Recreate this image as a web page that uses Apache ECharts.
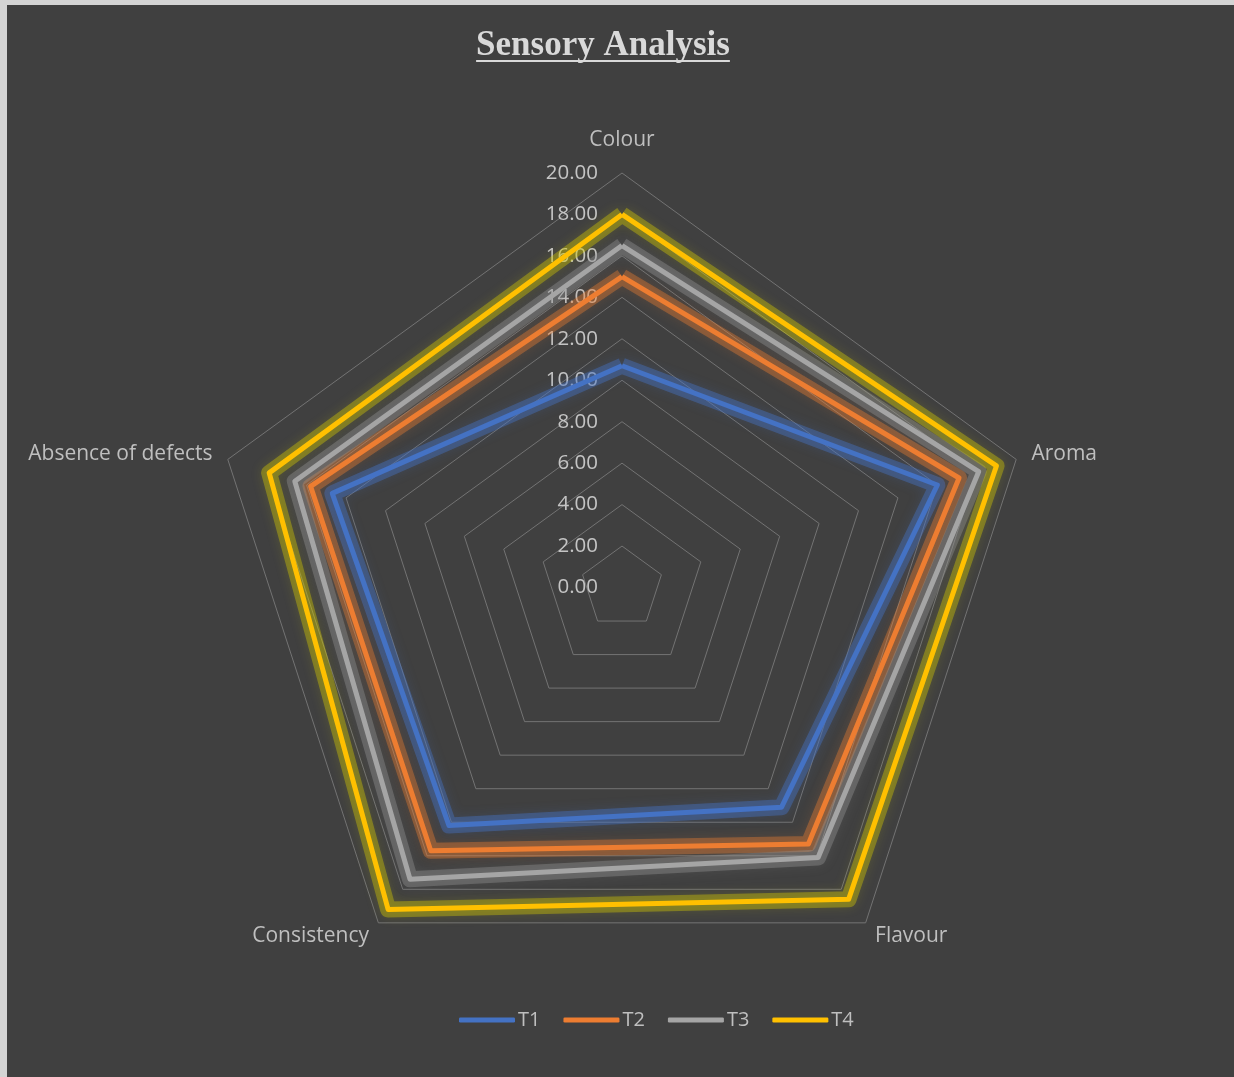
<!DOCTYPE html>
<html>
<head>
<meta charset="utf-8">
<script src="https://cdn.jsdelivr.net/npm/echarts@6/dist/echarts.min.js"></script>
<style>
  html, body { margin: 0; padding: 0; background: #d4d4d4; }
  #chart { position: absolute; left: 7px; top: 5px; width: 1227px; height: 1072px; background: #404040; }
</style>
</head>
<body>
<div id="chart"></div>
<script>
// axes of the radar, clockwise from the top
const categories = ['Colour', 'Aroma', 'Flavour', 'Consistency', 'Absence of defects'];
const seriesNames = ['T1', 'T2', 'T3', 'T4'];
// values
const t1 = [10.7, 16.0, 13.1, 14.2, 14.7];
const t2 = [15.0, 17.1, 15.3, 15.7, 15.8];
const t3 = [16.5, 18.1, 16.1, 17.4, 16.6];
const t4 = [18.0, 19.0, 18.6, 19.2, 17.9];
const valueMin = 0;
const valueMax = 20;
const valueStep = 2;

const colors = ['#4472C4', '#ED7D31', '#A5A5A5', '#FFC000'];
const glows = ['rgba(68,114,196,0.42)', 'rgba(237,125,49,0.38)', 'rgba(150,150,150,0.38)', 'rgba(215,205,0,0.38)'];

// echarts lays radar axes counter-clockwise, Excel goes clockwise
const order = [0, 4, 3, 2, 1];
const reorder = arr => order.map(i => arr[i]);

const chart = echarts.init(document.getElementById('chart'));

// radar geometry (chart coords)
const cx = 615, cy = 582.5, R = 414.5;

// title underline: measure the text width
const titleText = 'Sensory Analysis';
const titleSize = 35;
const ctx = document.createElement('canvas').getContext('2d');
ctx.font = 'bold ' + titleSize + 'px "Liberation Serif"';
const titleW = ctx.measureText(titleText).width;
const titleX = 596;

const allData = [t1, t2, t3, t4];
const font = '"Open Sans", "Noto Sans", sans-serif';

// soft glow under each line (Excel "glow" effect)
const glowSeries = allData.map((d, i) => ({
    name: seriesNames[i] + ' glow',
    type: 'radar',
    symbol: 'none',
    silent: true,
    z: 1,
    lineStyle: { color: glows[i], width: 16, shadowColor: glows[i], shadowBlur: 12 },
    data: [{ value: reorder(d) }]
}));

const lineSeries = allData.map((d, i) => ({
    name: seriesNames[i],
    type: 'radar',
    symbol: 'none',
    z: 2,
    itemStyle: { color: colors[i] },
    lineStyle: { color: colors[i], width: 5 },
    data: [{ value: reorder(d), name: seriesNames[i] }]
}));

const option = {
    backgroundColor: '#404040',
    animation: false,
    title: {
        text: titleText,
        left: titleX,
        top: 23,
        padding: 0,
        textAlign: 'center',
        textStyle: {
            fontFamily: '"Liberation Serif", "Times New Roman", serif',
            fontWeight: 'bold',
            fontSize: titleSize,
            color: '#d9d9d9'
        }
    },
    graphic: [{
        type: 'rect',
        shape: { x: titleX - titleW / 2, y: 55, width: titleW, height: 2 },
        style: { fill: '#d9d9d9' },
        silent: true
    }],
    legend: {
        top: 1000,
        left: 447,
        data: seriesNames,
        icon: 'roundRect',
        itemWidth: 56,
        itemHeight: 5,
        itemGap: 23,
        textStyle: { color: '#bfbfbf', fontSize: 20, fontFamily: font, padding: [0, 0, 0, -2] }
    },
    radar: {
        center: [cx, cy],
        radius: R,
        startAngle: 90,
        shape: 'polygon',
        splitNumber: (valueMax - valueMin) / valueStep,
        indicator: reorder(categories).map(name => ({ name: name, min: valueMin, max: valueMax })),
        axisName: {
            color: '#bfbfbf',
            fontSize: 21,
            fontFamily: font,
            formatter: name => name === 'Colour' ? '{top|' + name + '}' : name,
            rich: { top: { fontSize: 21, fontFamily: font, color: '#bfbfbf', padding: [0, 0, 6, 0] } }
        },
        nameGap: 16,
        axisLine: { show: false },
        axisTick: { show: false },
        axisLabel: { show: false },
        splitArea: { show: false },
        splitLine: { lineStyle: { color: '#737373', width: 1 } }
    },
    // invisible value axis laid along the Colour axis to carry the tick labels
    grid: { left: cx, top: cy - R, width: 1, height: R },
    xAxis: { type: 'value', show: false },
    yAxis: {
        type: 'value',
        min: valueMin,
        max: valueMax,
        interval: valueStep,
        axisLine: { show: false },
        axisTick: { show: false },
        splitLine: { show: false },
        axisLabel: {
            margin: 24,
            color: '#c4c4c4',
            fontSize: 20.5,
            fontFamily: font,
            formatter: v => v.toFixed(2)
        }
    },
    series: glowSeries.concat(lineSeries)
};

chart.setOption(option);
</script>
</body>
</html>
